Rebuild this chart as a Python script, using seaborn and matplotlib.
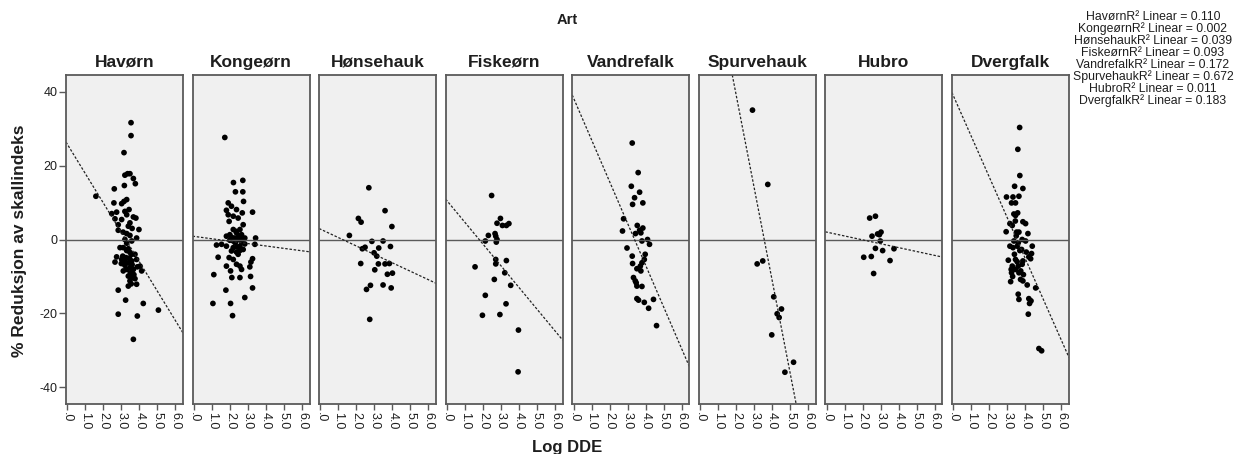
import matplotlib
matplotlib.use("Agg")
import matplotlib.pyplot as plt
import numpy as np
import pandas as pd
import seaborn as sns

# ---- data -----------------------------------------------------------------
species = ["Havørn", "Kongeørn", "Hønsehauk", "Fiskeørn",
           "Vandrefalk", "Spurvehauk", "Hubro", "Dvergfalk"]

# (Log DDE, % reduksjon av skallindeks) per art
havorn = [(3.54, 31.6), (3.54, 28.1), (3.15, 23.5), (3.20, 17.4), (3.35, 17.8), (3.48, 17.8),
          (3.67, 16.5), (3.78, 15.1), (3.17, 14.6), (2.61, 13.7), (1.59, 11.7), (3.30, 10.8),
          (3.15, 10.3), (3.02, 9.7), (2.59, 9.9), (3.43, 8.1), (3.20, 7.6), (2.47, 7.0),
          (2.74, 7.4), (3.30, 6.7), (3.67, 6.1), (3.81, 5.8), (2.65, 5.6), (3.02, 5.4),
          (3.48, 4.5), (2.83, 4.0), (3.39, 3.6), (3.98, 2.7), (2.83, 2.5), (3.30, 1.6),
          (3.48, 1.1), (3.85, 0.4), (3.20, 0.0), (3.58, -0.4), (2.93, -2.2), (3.11, -2.2),
          (3.39, -2.5), (2.74, -4.7), (3.08, -4.5), (3.26, -4.9), (3.58, -4.0), (3.76, -4.0),
          (2.65, -6.1), (3.02, -5.4), (3.20, -5.8), (3.39, -6.3), (3.58, -5.8), (3.85, -5.4),
          (4.04, -7.2), (3.11, -8.5), (3.30, -8.1), (3.48, -7.6), (3.67, -8.1), (3.89, -7.4),
          (4.13, -8.5), (3.39, -9.9), (3.58, -10.3), (3.76, -10.6), (3.48, -11.2), (3.85, -12.1),
          (3.39, -12.6), (2.83, -13.7), (3.24, -16.4), (4.22, -17.3), (5.06, -19.1), (2.83, -20.2),
          (3.89, -20.7), (3.67, -27.0), (3.30, -3.0), (3.48, -3.5), (3.60, -6.8), (3.20, -7.0),
          (3.50, -9.0), (3.70, -9.5), (3.10, 2.0), (3.60, 3.0), (3.30, -1.0), (3.45, -5.0),
          (3.00, -6.5), (3.55, -12.0)]

kongeorn = [(1.72, 27.6), (2.20, 15.4), (2.72, 16.0), (2.31, 12.9), (2.72, 12.9), (1.91, 9.9),
            (2.76, 10.3), (2.09, 9.0), (1.81, 7.9), (2.37, 8.1), (3.26, 7.4), (1.91, 6.7),
            (2.19, 6.3), (2.69, 7.2), (2.46, 5.8), (1.96, 4.9), (2.74, 4.0), (2.19, 2.7),
            (2.56, 2.7), (2.37, 1.8), (2.00, 1.3), (2.65, 1.3), (1.81, 0.9), (2.28, 0.4),
            (2.83, 0.4), (3.43, 0.4), (2.46, 0.0), (2.19, -0.4), (2.65, -0.7), (1.26, -1.5),
            (1.54, -1.3), (2.83, -1.2), (3.39, -1.3), (1.81, -1.8), (2.19, -2.2), (2.56, -1.8),
            (2.09, -3.1), (2.37, -3.4), (2.74, -2.7), (1.35, -4.8), (1.96, -4.9), (2.19, -5.4),
            (2.46, -4.0), (3.26, -5.2), (3.17, -6.1), (1.81, -7.2), (2.37, -6.7), (2.56, -7.2),
            (3.11, -7.4), (2.65, -8.1), (2.04, -8.5), (1.11, -9.5), (2.11, -10.3), (2.56, -10.3),
            (3.15, -10.0), (1.78, -13.7), (3.26, -13.1), (2.83, -15.7), (1.06, -17.3), (2.04, -17.3),
            (2.15, -20.6), (2.30, -0.9), (2.50, 1.0), (2.40, -2.0), (2.60, 0.3), (2.10, 0.6),
            (2.35, 2.2), (2.55, -3.0), (2.00, -0.2)]

honsehauk = [(2.69, 14.0), (3.59, 7.8), (2.11, 5.7), (2.26, 4.7), (3.97, 3.5), (1.61, 1.1),
             (2.86, -0.5), (3.48, -0.4), (2.48, -2.1), (2.33, -2.5), (3.24, -2.3), (3.89, -1.9),
             (2.98, -3.6), (3.13, -4.5), (2.24, -6.5), (3.22, -6.6), (3.59, -6.6), (3.83, -6.5),
             (3.02, -8.2), (3.72, -9.4), (4.00, -9.1), (2.78, -12.4), (2.56, -13.5), (3.48, -12.3),
             (3.93, -13.1), (2.74, -21.6)]

fiskeorn = [(2.48, 11.9), (2.97, 5.7), (2.78, 4.4), (3.08, 3.8), (3.30, 3.8), (3.44, 4.3),
            (2.30, 1.1), (2.67, 1.6), (2.71, 0.9), (2.13, -0.4), (2.74, -0.7), (2.78, 0.0),
            (1.56, -7.4), (2.71, -5.4), (2.71, -6.6), (3.30, -5.7), (3.21, -9.0), (2.63, -10.8),
            (3.54, -12.4), (2.13, -15.1), (3.28, -17.4), (1.97, -20.5), (2.94, -20.3),
            (3.97, -24.5), (3.95, -35.8)]

vandrefalk = [(3.26, 26.1), (3.59, 18.1), (3.21, 14.4), (3.67, 12.8), (3.39, 11.3), (3.85, 9.9),
              (3.28, 9.5), (2.78, 5.6), (2.72, 2.3), (3.54, 3.8), (3.85, 3.1), (3.67, 2.5),
              (3.44, 1.6), (3.74, 1.8), (3.80, -0.4), (4.11, 0.0), (4.22, -1.3), (2.97, -2.3),
              (3.98, -4.0), (3.26, -4.5), (3.93, -5.4), (3.28, -6.5), (3.80, -6.3), (3.71, -7.2),
              (3.52, -7.9), (3.74, -8.5), (3.33, -10.3), (3.43, -11.2), (3.52, -12.6), (3.80, -12.7),
              (3.48, -11.7), (3.52, -16.0), (3.61, -16.4), (3.93, -17.0), (4.44, -16.2),
              (4.17, -18.6), (4.61, -23.3)]

spurvehauk = [(2.91, 35.0), (3.76, 14.9), (3.17, -6.6), (3.48, -5.8), (4.09, -15.5), (4.52, -18.8),
              (4.28, -20.1), (4.39, -21.1), (3.98, -25.8), (5.19, -33.2), (4.71, -35.9)]

hubro = [(2.39, 5.8), (2.71, 6.3), (2.52, 0.9), (2.83, 1.5), (3.02, 2.0), (2.93, 1.3),
         (2.98, -0.4), (2.71, -2.4), (3.11, -3.0), (3.74, -2.5), (2.06, -4.8), (2.48, -4.6),
         (3.52, -5.7), (2.61, -9.2)]

dvergfalk = [(3.69, 30.3), (3.59, 24.4), (3.70, 17.3), (3.41, 14.4), (3.87, 13.8), (2.96, 11.5),
             (3.32, 11.5), (3.65, 11.7), (3.24, 9.9), (3.46, 9.9), (3.58, 7.2), (3.46, 6.5),
             (3.37, 6.9), (3.87, 4.8), (4.02, 4.3), (3.15, 4.3), (3.28, 3.8), (2.94, 2.1),
             (3.52, 2.0), (3.65, 2.0), (4.15, 1.6), (3.83, 0.0), (3.37, -0.4), (3.61, -0.9),
             (4.02, -0.4), (3.15, -1.8), (3.56, -1.8), (4.39, -1.8), (3.32, -2.2), (3.80, -2.7),
             (4.06, -3.4), (4.35, -3.8), (3.06, -5.6), (3.46, -5.4), (3.87, -5.8), (4.30, -5.2),
             (4.20, -4.7), (3.28, -7.2), (3.61, -7.2), (3.22, -8.1), (3.46, -8.1), (3.83, -6.7),
             (3.24, -9.0), (3.65, -9.0), (3.19, -11.4), (3.74, -10.8), (3.87, -11.2), (4.11, -12.3),
             (4.58, -13.1), (3.61, -14.8), (3.65, -16.2), (4.20, -16.0), (4.32, -16.6),
             (4.24, -17.3), (4.17, -20.2), (4.76, -29.5), (4.91, -30.1), (3.50, 1.0), (3.70, -3.0),
             (3.40, -4.0), (3.55, -6.0), (3.75, -8.5), (3.30, -10.0), (3.90, -9.5), (3.45, 5.0)]

# linear fit per art: intercept, slope and R^2
fit_intercept = [25.8, 0.85, 2.8, 10.5, 38.3, 89.4, 2.0, 39.0]
fit_slope = [-7.95, -0.65, -2.28, -5.87, -11.3, -25.1, -1.05, -11.03]
r_squared = ["0.110", "0.002", "0.039", "0.093", "0.172", "0.672", "0.011", "0.183"]

x_ticks = [0, 1, 2, 3, 4, 5, 6]
x_tick_labels = [".0", "1.0", "2.0", "3.0", "4.0", "5.0", "6.0"]
y_ticks = [-40, -20, 0, 20, 40]

# ---- tidy table -----------------------------------------------------------
point_sets = [havorn, kongeorn, honsehauk, fiskeorn, vandrefalk, spurvehauk, hubro, dvergfalk]
rows = []
for art, pts in zip(species, point_sets):
    for dde, red in pts:
        rows.append({"Art": art, "LogDDE": dde, "Reduksjon": red})
df = pd.DataFrame(rows)

# ---- style ----------------------------------------------------------------
sns.set_style("ticks")
plt.rcParams["font.family"] = ["Liberation Sans", "DejaVu Sans"]

W, H = 1239, 454
panel_bg = "#F0F0F0"
frame_col = "#5A5A5A"
text_col = "#1E1E1E"

g = sns.FacetGrid(df, col="Art", col_order=species, sharex=True, sharey=True,
                  height=4.0, aspect=0.35, despine=False)
g.map_dataframe(sns.scatterplot, x="LogDDE", y="Reduksjon", color="black",
                s=17, edgecolor="none", linewidth=0)

fig = g.figure
fig.set_size_inches(W / 100, H / 100)
fig.set_dpi(100)
fig.patch.set_facecolor("white")
fig.subplots_adjust(left=66 / W, right=1069 / W, top=1 - 75 / H, bottom=1 - 404 / H,
                    wspace=0.081)

g.set_titles("{col_name}", fontweight="bold", size=12.5, pad=6, color=text_col)
g.set_axis_labels("", "")

for i, ax in enumerate(g.axes.flat):
    ax.set_facecolor(panel_bg)
    for sp in ax.spines.values():
        sp.set_color(frame_col)
        sp.set_linewidth(1.3)
    ax.set_xlim(-0.07, 6.43)
    ax.set_ylim(-44.5, 44.5)
    ax.axhline(0, color="#5A5A5A", linewidth=1.0, zorder=1)
    ax.axline((0, fit_intercept[i]), slope=fit_slope[i], color="#222222",
              linewidth=0.9, linestyle=(0, (2.0, 1.4)), zorder=1.5)
    ax.set_xticks(x_ticks)
    ax.set_xticklabels(x_tick_labels, rotation=270, fontsize=9, color=text_col)
    ax.tick_params(axis="x", direction="out", length=4, width=1, color=frame_col, pad=1.5)
    if i == 0:
        ax.set_yticks(y_ticks)
        ax.set_yticklabels([str(v) for v in y_ticks], fontsize=9, color=text_col)
        ax.tick_params(axis="y", direction="out", length=5, width=1, color=frame_col, pad=1)
    else:
        ax.tick_params(axis="y", left=False, labelleft=False)
    ax.grid(False)

# overall labels
mid_x = (66 + 1069) / 2 / W
fig.text(mid_x, 1 - 20 / H, "Art", ha="center", va="center",
         fontsize=10.5, fontweight="bold", color=text_col)
fig.text(mid_x, 1 - 452 / H, "Log DDE", ha="center", va="baseline",
         fontsize=12, fontweight="bold", color=text_col)
fig.text(20 / W, 1 - 241 / H, "% Reduksjon av skallindeks", ha="center",
         va="center", rotation=90, fontsize=12.5, fontweight="bold", color=text_col)

# R² annotations
for k, (art, r2) in enumerate(zip(species, r_squared)):
    fig.text(1153 / W, 1 - (17 + 12 * k) / H, f"{art}R² Linear = {r2}",
             ha="center", va="center", fontsize=8.8, color=text_col)

fig.savefig("out.png", dpi=100, facecolor="white")
